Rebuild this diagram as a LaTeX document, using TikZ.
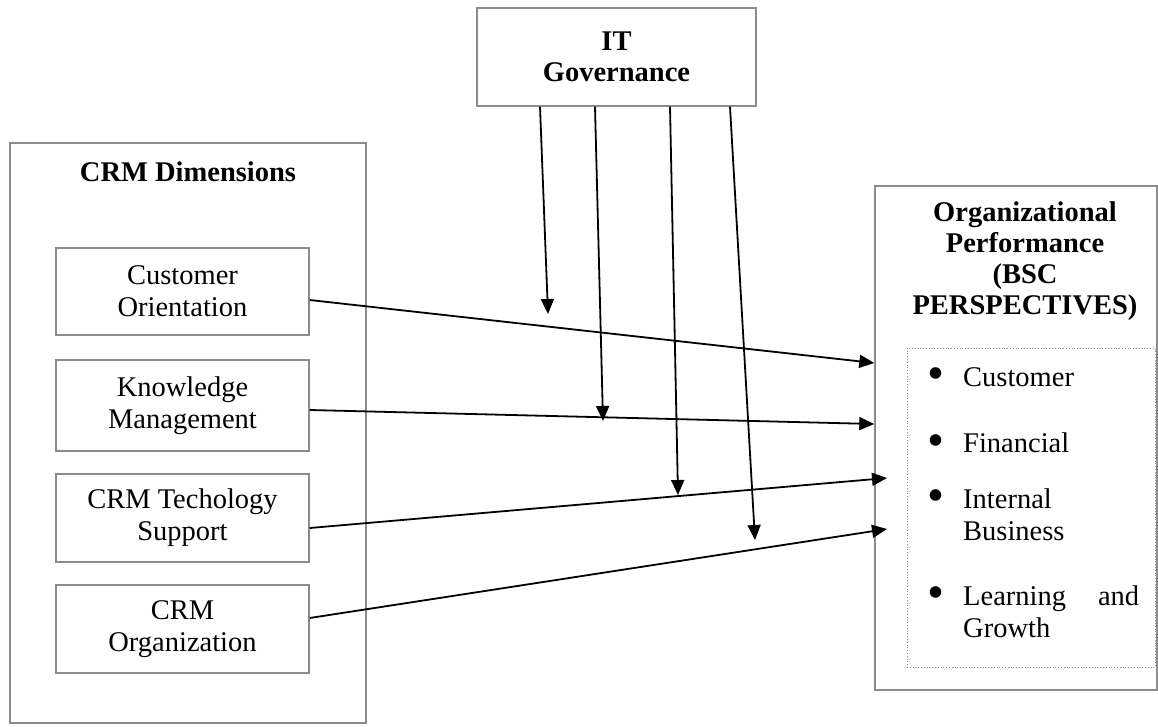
\documentclass[tikz,border=0pt]{standalone}
\usepackage{fontspec}
\setmainfont{Liberation Serif}
\usetikzlibrary{arrows.meta}
\definecolor{boxgray}{gray}{0.55}
\begin{document}
\begin{tikzpicture}[x=1pt,y=-1pt,
  box/.style={draw=boxgray, line width=1.4pt, rectangle, inner sep=0pt},
  lbl/.style={font=\fontsize{28.5}{32}\selectfont, align=center, inner sep=0pt},
  hd/.style={font=\bfseries\fontsize{28.5}{31}\selectfont, align=center, inner sep=0pt},
  itemtxt/.style={font=\fontsize{28.5}{32}\selectfont, text width=176pt, align=left, inner sep=0pt, anchor=north west},
  bul/.style={font=\fontsize{28.5}{32}\selectfont, inner sep=0pt, scale=1.7},
  arr/.style={draw=black, line width=1.8pt, -{Triangle[length=15pt,width=13pt]}},
]
\useasboundingbox (0,0) rectangle (1158,727);
\fill[white] (0,0) rectangle (1158,727);

% IT Governance
\node[box, hd, minimum width=279pt, minimum height=98pt] (itg) at (616.5,57) {IT\\Governance};

% CRM Dimensions
\node[box, minimum width=356pt, minimum height=580pt] (crm) at (188,433) {};
\node[hd] (crmt) at (188,172) {CRM Dimensions};
\node[box, lbl, minimum width=253pt, minimum height=87pt] (co) at (182.5,291.5) {Customer\\Orientation};
\node[box, lbl, minimum width=253pt, minimum height=91pt] (km) at (182.5,405.5) {Knowledge\\Management};
\node[box, lbl, minimum width=253pt, minimum height=88pt] (ts) at (182.5,518) {CRM Techology\\Support};
\node[box, lbl, minimum width=253pt, minimum height=88pt] (org) at (182.5,629) {CRM\\Organization};

% Organizational Performance
\node[box, minimum width=282pt, minimum height=504pt] (perf) at (1016,438) {};
\node[hd] (perft) at (1025,261) {Organizational\\Performance\\(BSC\\PERSPECTIVES)};
\node[draw=boxgray, dotted, line width=0.8pt, minimum width=248pt, minimum height=319pt, inner sep=0pt] (bsc) at (1031,507.5) {};

\node[bul] (b1) at (936,379) {\textbullet};
\node[bul] (b2) at (936,446) {\textbullet};
\node[bul] (b3) at (936,501) {\textbullet};
\node[bul] (b4) at (936,598) {\textbullet};
\node[itemtxt] (i1) at (963,367) {Customer};
\node[itemtxt] (i2) at (963,433) {Financial};
\node[itemtxt] (i3) at (963,489) {Internal\\Business};
\node[itemtxt] (i4) at (963,586) {Learning\hfill and\\Growth};

% arrows CRM -> performance
\coordinate (e3) at (887,478);
\coordinate (e4) at (887,529);
\draw[arr] ([yshift=-8.5pt]co.east) -- ([yshift=75pt]perf.west);
\draw[arr] ([yshift=-4.5pt]km.east) -- ([yshift=14pt]perf.west);
\draw[arr] ([yshift=-10pt]ts.east) -- (e3);
\draw[arr] ([yshift=11pt]org.east) -- (e4);

% moderating arrows
\coordinate (v1) at (548,314);
\coordinate (v2) at (603,421);
\coordinate (v3) at (678,495);
\coordinate (v4) at (755,540);
\draw[arr] ([xshift=-76.5pt]itg.south) -- (v1);
\draw[arr] ([xshift=-21.5pt]itg.south) -- (v2);
\draw[arr] ([xshift=53.5pt]itg.south) -- (v3);
\draw[arr] ([xshift=113.5pt]itg.south) -- (v4);
\end{tikzpicture}
\end{document}
